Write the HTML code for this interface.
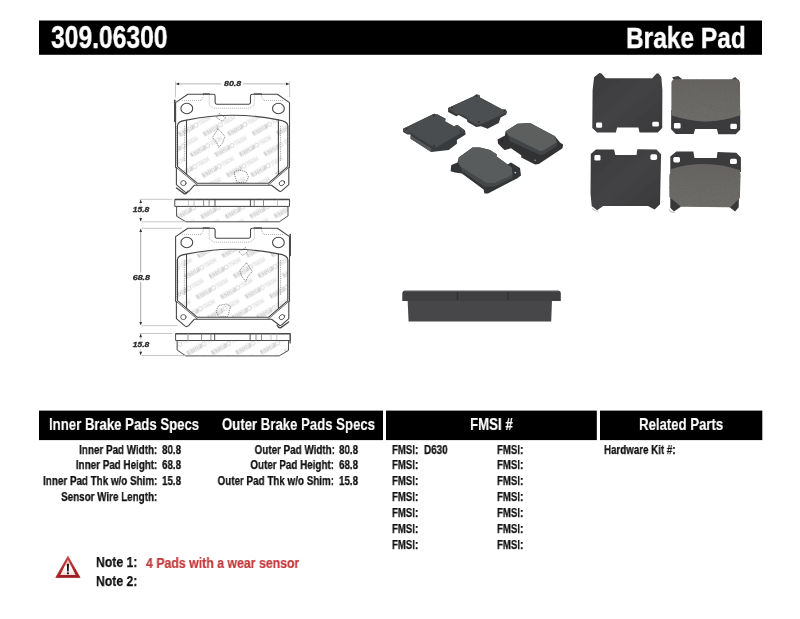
<!DOCTYPE html>
<html>
<head>
<meta charset="utf-8">
<title>309.06300 Brake Pad</title>
<style>
html,body{margin:0;padding:0;background:#fff;}
body{width:800px;height:619px;position:relative;overflow:hidden;font-family:"Liberation Sans",sans-serif;font-weight:bold;color:#111;}
.t{position:absolute;white-space:nowrap;line-height:1;will-change:transform;}
#art{position:absolute;left:0;top:0;will-change:transform;}
</style>
</head>
<body>
<svg id="art" width="800" height="619" viewBox="0 0 800 619">
<rect x="39" y="20.5" width="723" height="34.3" fill="#000"/>
<rect x="39" y="410.6" width="344" height="29.5" fill="#000"/>
<rect x="386" y="410.6" width="210.8" height="29.5" fill="#000"/>
<rect x="600" y="410.6" width="162.3" height="29.5" fill="#000"/>
<defs>
<pattern id="wm" width="42.9" height="23.6" patternUnits="userSpaceOnUse" patternTransform="translate(210.9,130.25) rotate(-29.5) translate(-10,-6)">
 <g id="lg">
  <rect x="1.8" y="3.6" width="16.4" height="4.8" rx="0.6" fill="#cecece"/>
  <text x="10" y="7.6" font-family="Liberation Sans, sans-serif" font-weight="bold" font-size="4.6" text-anchor="middle" fill="#fff" textLength="13.5" lengthAdjust="spacingAndGlyphs">STOP</text>
  <circle cx="21" cy="6" r="2.1" fill="none" stroke="#cfcfcf" stroke-width="0.9"/>
  <text x="24.2" y="7.7" font-family="Liberation Sans, sans-serif" font-weight="bold" font-size="4.8" fill="none" stroke="#e0e0e0" stroke-width="0.45" textLength="13" lengthAdjust="spacingAndGlyphs">TECH</text>
 </g>
 <use href="#lg" x="21.45" y="11.8"/>
 <use href="#lg" x="-21.45" y="11.8"/>
</pattern>
<pattern id="wm2" href="#wm" patternTransform="translate(252.8,158.8) rotate(-29.5) translate(-10,-6)"/>
<pattern id="wm3" href="#wm" patternTransform="translate(243.5,214.6) rotate(-29.5) translate(-10,-6)"/>
</defs>
<filter id="b3" x="-5%" y="-5%" width="110%" height="110%"><feGaussianBlur stdDeviation="0.32"/></filter>
<g filter="url(#b3)">
<g transform="translate(0,0)" fill="none" stroke="#464646" stroke-width="1.1" stroke-linejoin="round" stroke-linecap="round">
<path d="M177.5,125.6 Q177.6,121.2 186.5,120.1 A225,225 0 0 1 278.4,119.9 Q287.6,121.2 287.8,125.6 L287.8,166.6 L268.3,183.3 L197.4,183.3 L177.5,166.6 Z" fill="url(#wm)" stroke="none"/>
<path d="M175.6,102.6 L187.8,94.3 L213.3,94.3 Q215.1,94.3 215.1,96 L215.1,102.6 Q215.1,104.2 216.7,104.2 L248.9,104.2 Q250.5,104.2 250.5,102.6 L250.5,96 Q250.5,94.3 252.2,94.3 L277.4,94.3 L289.5,102.6 L289.5,167.2 L288.8,168 L288.8,184.6 L281.6,190.9 Q280,192.2 278.7,190.7 L271.6,185.3 L194.2,185.3 L188.6,191.6 Q186.6,193.4 184.8,191.9 L176.4,184.6 L176.4,168 L175.6,167.2 Z"/>
<path d="M177.5,125.6 Q177.6,121.2 186.5,120.1 A225,225 0 0 1 278.4,119.9 Q287.6,121.2 287.8,125.6 L287.8,166.6 L268.3,183.3 L197.4,183.3 L177.5,166.6 Z"/>
<path d="M175.8,167 L197.2,184.9 M289.3,167 L268.5,184.9" stroke-width="0.8"/>
<path d="M186.5,120.1 L186.5,174.1 M278.4,119.9 L278.4,174.5"/>
<path d="M184.4,126 L184.4,161 M280.5,126 L280.5,161 M176.6,126 L176.6,165 M288.7,126 L288.7,165" stroke="#6a6a6a" stroke-width="0.6" stroke-dasharray="0.9 0.9" stroke-linecap="butt"/>
<ellipse cx="186.8" cy="108.5" rx="5.9" ry="5.2"/><ellipse cx="278.4" cy="108.5" rx="5.9" ry="5.2"/>
<ellipse cx="183.4" cy="183.1" rx="2.7" ry="2.5" stroke-width="0.85"/><ellipse cx="281.9" cy="183.1" rx="2.9" ry="2.3" transform="rotate(-35 281.9 183.1)" stroke-width="0.85"/>
<path d="M209.2,94.6 L209.2,105 L214,108.2 L250,108.2 L254.3,105 L254.3,94.6 M182,100.5 L201.5,100.5 L203.3,96.5 L203.3,94.6 M283,100.5 L263.5,100.5 L261.6,96.5 L261.6,94.6" stroke="#808080" stroke-width="0.55" stroke-dasharray="1.1 0.9" stroke-linecap="butt"/>
<path d="M203.4,94 L209.2,94 M254.4,94 L261.5,94" stroke-width="1.3" stroke="#555"/>
<path d="M174.8,100.2 L174.8,121.4" stroke-width="1.5" stroke="#444"/>
<path d="M176.5,188 L184.2,193.6 Q186.4,194.4 187.9,191.2" stroke-width="1.4" stroke="#4a4a4a"/>
<path d="M218.1,128.8 L224.9,136.4 L222.6,143 L218.8,147.4 L217,143 L212.4,137.4 Z M219,113.6 L225.8,117.6 L222,121.4 L216.5,117.4 Z M234,172.5 L238,170 L246,171.5 L248.5,177 L246,182.3 L237,182.6 Z" stroke="#5a5a5a" stroke-width="0.7" stroke-dasharray="1.3 0.9" stroke-linecap="butt"/>
</g>
<g transform="translate(0,0)" fill="none" stroke="#464646" stroke-width="0.95" stroke-linejoin="round">
<path d="M176.6,206.4 L176.6,216.3 L186,221.8 L279.3,221.8 L288,215.9 L288,206.4 Z" fill="url(#wm)" stroke="none"/>
<path d="M176.6,206.4 L176.6,216.3 L186,221.8 L279.3,221.8 L288,215.9 L288,206.4 Z"/>
<rect x="174.8" y="199.4" width="114.7" height="7" fill="#fff"/>
<path d="M174.8,199.6 h114.7" stroke-width="1.5"/>
<path d="M215,199.6 V206.4 M250.4,199.6 V206.4" stroke-width="0.95"/>
<path d="M203.6,199.6 V206.4 M209.1,199.6 V206.4 M254.2,199.6 V206.4 M263.5,199.6 V206.4" stroke="#7d7d7d" stroke-width="0.9"/>
<path d="M188.3,199.6 V206.4 M194.1,199.6 V206.4 M277.5,199.6 V206.4" stroke="#ababab" stroke-width="0.7"/>
</g>
<g transform="translate(0,134)" fill="none" stroke="#464646" stroke-width="1.1" stroke-linejoin="round" stroke-linecap="round">
<path d="M177.5,125.6 Q177.6,121.2 186.5,120.1 A225,225 0 0 1 278.4,119.9 Q287.6,121.2 287.8,125.6 L287.8,166.6 L268.3,183.3 L197.4,183.3 L177.5,166.6 Z" fill="url(#wm2)" stroke="none"/>
<path d="M175.6,102.6 L187.8,94.3 L213.3,94.3 Q215.1,94.3 215.1,96 L215.1,102.6 Q215.1,104.2 216.7,104.2 L248.9,104.2 Q250.5,104.2 250.5,102.6 L250.5,96 Q250.5,94.3 252.2,94.3 L277.4,94.3 L289.5,102.6 L289.5,167.2 L288.8,168 L288.8,184.6 L281.6,190.9 Q280,192.2 278.7,190.7 L271.6,185.3 L194.2,185.3 L188.6,191.6 Q186.6,193.4 184.8,191.9 L176.4,184.6 L176.4,168 L175.6,167.2 Z"/>
<path d="M177.5,125.6 Q177.6,121.2 186.5,120.1 A225,225 0 0 1 278.4,119.9 Q287.6,121.2 287.8,125.6 L287.8,166.6 L268.3,183.3 L197.4,183.3 L177.5,166.6 Z"/>
<path d="M175.8,167 L197.2,184.9 M289.3,167 L268.5,184.9" stroke-width="0.8"/>
<path d="M186.5,120.1 L186.5,174.1 M278.4,119.9 L278.4,174.5"/>
<path d="M184.4,126 L184.4,161 M280.5,126 L280.5,161 M176.6,126 L176.6,165 M288.7,126 L288.7,165" stroke="#6a6a6a" stroke-width="0.6" stroke-dasharray="0.9 0.9" stroke-linecap="butt"/>
<ellipse cx="186.8" cy="108.5" rx="5.9" ry="5.2"/><ellipse cx="278.4" cy="108.5" rx="5.9" ry="5.2"/>
<ellipse cx="183.4" cy="183.1" rx="2.7" ry="2.5" stroke-width="0.85"/><ellipse cx="281.9" cy="183.1" rx="2.9" ry="2.3" transform="rotate(-35 281.9 183.1)" stroke-width="0.85"/>
<path d="M209.2,94.6 L209.2,105 L214,108.2 L250,108.2 L254.3,105 L254.3,94.6 M182,100.5 L201.5,100.5 L203.3,96.5 L203.3,94.6 M283,100.5 L263.5,100.5 L261.6,96.5 L261.6,94.6" stroke="#808080" stroke-width="0.55" stroke-dasharray="1.1 0.9" stroke-linecap="butt"/>
<path d="M203.4,94 L209.2,94 M254.4,94 L261.5,94" stroke-width="1.3" stroke="#555"/>
<path d="M290.2,100.4 L290.2,121.4" stroke-width="1.5" stroke="#444"/>
<path d="M288.6,188 L280.9,193.6 Q278.7,194.4 277.2,191.2" stroke-width="1.4" stroke="#4a4a4a"/>
<path d="M246.5,128.8 L239.7,136.4 L242,143 L245.8,147.4 L247.6,143 L252.2,137.4 Z M245.6,113.6 L238.8,117.6 L242.6,121.4 L248.1,117.4 Z M230.6,172.5 L226.6,170 L218.6,171.5 L216.1,177 L218.6,182.3 L227.6,182.6 Z" stroke="#5a5a5a" stroke-width="0.7" stroke-dasharray="1.3 0.9" stroke-linecap="butt"/>
</g>
<g transform="translate(0,134.1)" fill="none" stroke="#464646" stroke-width="0.95" stroke-linejoin="round">
<path d="M288.5,206.4 L288.5,216.3 L279.1,221.8 L185.8,221.8 L177.1,215.9 L177.1,206.4 Z" fill="url(#wm3)" stroke="none"/>
<path d="M288.5,206.4 L288.5,216.3 L279.1,221.8 L185.8,221.8 L177.1,215.9 L177.1,206.4 Z"/>
<rect x="175.6" y="199.4" width="114.7" height="7" fill="#fff"/>
<path d="M175.6,199.6 h114.7" stroke-width="1.5"/>
<path d="M250.1,199.6 V206.4 M214.7,199.6 V206.4" stroke-width="0.95"/>
<path d="M261.5,199.6 V206.4 M256.0,199.6 V206.4 M210.9,199.6 V206.4 M201.6,199.6 V206.4" stroke="#7d7d7d" stroke-width="0.9"/>
<path d="M276.8,199.6 V206.4 M271.0,199.6 V206.4 M187.6,199.6 V206.4" stroke="#ababab" stroke-width="0.7"/>
<path d="M188.3,199.6 V206.4" stroke="#ababab" stroke-width="0.7"/>
<path d="M290.2,200 V209.5" stroke="#555" stroke-width="1.3"/>
</g>
</g>
<g stroke="#b9b9b9" stroke-width="1" fill="none">
<path d="M177,83.9 H221.4 M242.9,83.9 H288.2"/>
<path d="M175.5,81.5 V97.5 M289.65,81.5 V97.5" stroke-width="0.8"/>
<path d="M140.7,201 V206 M140.7,215 V220.2 M140.7,335 V340 M140.7,349 V353.8" stroke-width="0.7" stroke="#c8c8c8"/>
<path d="M140.7,230 V272.5 M140.7,282 V324" stroke="#a8a8a8"/>
<path d="M139.6,199.3 H172.5 M141.6,221.8 H186 M141.6,228.3 H182 M141.6,325.7 H177.5 M139.6,333.5 H172.5 M141.6,355.5 H186" stroke-width="0.8"/>
</g>
<path d="M175.6,83.9 l3.6,-1.35 l0,2.7 Z M289.6,83.9 l-3.6,-1.35 l0,2.7 Z M140.7,199.5 l-1.35,3.6 l2.7,0 Z M140.7,221.7 l-1.35,-3.6 l2.7,0 Z M140.7,228.4 l-1.35,3.6 l2.7,0 Z M140.7,325.6 l-1.35,-3.6 l2.7,0 Z M140.7,333.6 l-1.35,3.6 l2.7,0 Z M140.7,355.4 l-1.35,-3.6 l2.7,0 Z" fill="#333"/>
<text x="224" y="86.3" font-family="Liberation Sans, sans-serif" font-weight="bold" font-style="italic" font-size="7.4" fill="#2a2a2a" stroke="#2a2a2a" stroke-width="0.3" textLength="17.2" lengthAdjust="spacingAndGlyphs">80.8</text>
<text x="132.7" y="212.3" font-family="Liberation Sans, sans-serif" font-weight="bold" font-style="italic" font-size="7.4" fill="#2a2a2a" stroke="#2a2a2a" stroke-width="0.3" textLength="16.6" lengthAdjust="spacingAndGlyphs">15.8</text>
<text x="132.7" y="279.6" font-family="Liberation Sans, sans-serif" font-weight="bold" font-style="italic" font-size="7.4" fill="#2a2a2a" stroke="#2a2a2a" stroke-width="0.3" textLength="17.3" lengthAdjust="spacingAndGlyphs">68.8</text>
<text x="132.7" y="346.8" font-family="Liberation Sans, sans-serif" font-weight="bold" font-style="italic" font-size="7.4" fill="#2a2a2a" stroke="#2a2a2a" stroke-width="0.3" textLength="16.6" lengthAdjust="spacingAndGlyphs">15.8</text>
<g>
<linearGradient id="wg" x1="0" y1="0" x2="0" y2="1"><stop offset="0" stop-color="#f3aaa7"/><stop offset="0.5" stop-color="#ffffff"/><stop offset="1" stop-color="#f6dedc"/></linearGradient>
<linearGradient id="wr" x1="0" y1="0" x2="0.3" y2="1"><stop offset="0" stop-color="#c9494a"/><stop offset="0.6" stop-color="#b4292c"/><stop offset="1" stop-color="#9f1f22"/></linearGradient>
<path d="M67.9,556.2 L80.1,577.5 L55.8,577.5 Z" fill="url(#wr)" stroke="url(#wr)" stroke-width="0.7" stroke-linejoin="round"/>
<path d="M67.9,559.6 L75.6,574.9 L60.3,574.9 Z" fill="url(#wg)"/>
<path d="M66.85,563.8 h2.15 l-0.3,7.6 h-1.55 Z" fill="#151515"/>
<circle cx="67.93" cy="573.35" r="1.1" fill="#151515"/>
</g>
<defs><filter id="b5" x="-5%" y="-5%" width="110%" height="110%"><feGaussianBlur stdDeviation="0.55"/></filter><filter id="b8" x="-5%" y="-5%" width="110%" height="110%"><feGaussianBlur stdDeviation="0.6"/></filter><linearGradient id="pl" x1="0" y1="0" x2="1" y2="1"><stop offset="0" stop-color="#3a3a3c"/><stop offset="0.5" stop-color="#434345"/><stop offset="1" stop-color="#38383a"/></linearGradient><linearGradient id="frg" x1="0" y1="0" x2="0" y2="1"><stop offset="0" stop-color="#666461"/><stop offset="1" stop-color="#706e6a"/></linearGradient><filter id="nz" x="0" y="0" width="100%" height="100%"><feTurbulence type="fractalNoise" baseFrequency="0.75" numOctaves="2" seed="4"/><feColorMatrix type="matrix" values="0 0 0 0 0.12  0 0 0 0 0.12  0 0 0 0 0.12  0 0 0 1.8 -0.68"/><feComposite operator="in" in2="SourceAlpha"/></filter></defs>
<g filter="url(#b5)">
<path d="M594.1,77.3 L599.3,72.9 L601.5,73.4 L605.6,78.3 L652.2,78.3 L656.5,73.5 L658.5,73.4 L661.3,77.1 L662.4,90 L662.2,128 L657.7,132.6 L639.6,132.6 L638.4,127.5 L617.1,127.5 L615.9,132.6 L597.1,132.6 L592.3,128 L592.6,90 Z" fill="url(#pl)"/>
<rect x="596.1" y="122.5" width="6" height="5.2" rx="1.3" fill="#fdfdfd"/><rect x="652.3" y="121.7" width="6.6" height="4.8" rx="1.3" fill="#fdfdfd"/>
<path d="M671.2,110 L671.1,129.2 L675.7,133.9 L693.7,133.9 L695.1,129 L716.9,129 L718.2,134.2 L735.7,134.2 L740.2,129.8 L740.2,110 Z" fill="#3a3a3c"/>
<path d="M672.1,77.3 L678.2,75.9 L682.4,79.3 L675,82 Z M731.5,79.3 L735.1,77 L739.3,80.7 L739.6,90 L735,84 Z" fill="#3f3f41"/>
<path d="M671.5,83 Q671.5,79.4 676,79.3 L735.5,79.3 Q740,79.4 740,84 L740.1,115.3 Q706,127.5 671.4,115.3 Z" fill="url(#frg)"/>
<path d="M671.5,83 Q671.5,79.4 676,79.3 L735.5,79.3 Q740,79.4 740,84 L740.1,115.3 Q706,127.5 671.4,115.3 Z" fill="#000" filter="url(#nz)"/>
<rect x="673.9" y="123.1" width="6.7" height="5.4" rx="1.3" fill="#fdfdfd"/><rect x="730.3" y="123.7" width="6.6" height="5.3" rx="1.3" fill="#fdfdfd"/>
<path d="M590.8,154 L595.9,149.4 L614.1,149.4 L615.3,155.1 L636.5,155.1 L637.3,149.2 L656.5,149.4 L661.1,154.3 L660.1,200.6 L660.1,204.2 L654.6,209.6 L648,206 L603.2,206 L597.1,210.3 L591.7,206 L590.5,193.3 Z" fill="url(#pl)"/>
<rect x="594.4" y="155.1" width="6.1" height="5.5" rx="1.4" fill="#fdfdfd"/><rect x="650.4" y="154.3" width="6.7" height="5.7" rx="1.8" fill="#fdfdfd"/>
<path d="M592.3,208.6 Q594.5,211.6 598.4,211.2" stroke="#c9c9c9" stroke-width="1.1" fill="none"/>
<path d="M670.3,156.4 L676.4,151.5 L693.3,151.5 L694.5,157.9 L716.7,157.9 L717.5,152.1 L736.3,152.7 L740.9,157.6 L740.9,172 L670.3,172 Z" fill="#3a3a3c"/>
<path d="M670.3,196 L670.3,207.8 L673.9,211.5 L679.4,207.8 L684,204 Z M738.9,197 L738.7,207.2 L735.1,211.5 L729.6,207.2 L728,203 Z" fill="#38383a"/>
<path d="M671.5,169 Q705,158.6 739.9,170.3 L740.5,175 L739.9,198.1 L730.3,207.2 L681.2,206.8 L669.4,196.9 L669.4,175 Z" fill="url(#frg)"/>
<path d="M671.5,169 Q705,158.6 739.9,170.3 L740.5,175 L739.9,198.1 L730.3,207.2 L681.2,206.8 L669.4,196.9 L669.4,175 Z" fill="#000" filter="url(#nz)"/>
<rect x="673.3" y="157" width="6.7" height="5.4" rx="1.6" fill="#fdfdfd"/><rect x="730" y="158.8" width="6.9" height="5.2" rx="1.6" fill="#fdfdfd"/>
<path d="M669.2,209.2 Q671,212.8 674.6,212.4" stroke="#c9c9c9" stroke-width="1.1" fill="none"/>
</g>
<g filter="url(#b5)">
<path d="M407.6,300 L552,300 L551.2,321.6 L408.6,321.6 Z" fill="#47474a"/>
<path d="M402.3,293 Q402.4,290.8 405,290.7 L558.5,290.7 Q560.8,290.8 560.8,293 L560.8,300.9 L402.3,300.9 Z" fill="#404043"/>
<path d="M404,291.2 L559,291.2" stroke="#5c5c5e" stroke-width="1"/>
<path d="M457.5,292 V300 M507.8,292 V300" stroke="#2f2f31" stroke-width="1.2"/>
</g>
<g filter="url(#b8)">
<path d="M448.1,108.1 L473.75,96.25 L476.25,94.4 L479.4,95 L480,97.5 L502.5,109.4 L505.6,109.4 L506.9,111.9 L506.25,114.4 L500.6,117.5 L498.75,123.1 L487.5,128.75 L481.25,126.25 L476.25,126.9 L467.5,121.9 L466.9,119.4 L458.75,115 L456.25,116.25 L448.1,111.9 Z" fill="#38393b"/>
<path d="M448.1,108.1 L473.75,96.25 L476.25,94.4 L479.4,95 L480,97.5 L502.5,109.4 L505.6,109.4 L506.9,111.9 L500,115.5 L481.25,124.2 L476.25,124.8 L468.75,120.4 L466.9,117.6 L458.75,113.4 L456.25,114.6 Z" fill="#4c4f51"/>
<path d="M403.1,128.75 L432.5,114.4 L434.4,113.75 L437.5,114.4 L445.6,118.75 L445,121.25 L453.75,126.25 L457.5,125 L465,130.6 L465.6,134.4 L456.9,140 L456.9,143.75 L448.75,150 L431.25,151.9 L410.6,138.75 L410.6,134.4 L407.5,134.4 L403.1,131.9 Z" fill="#393b3d"/>
<path d="M410.6,135.4 L431.4,148.6 L431.25,151.9 L410.6,138.75 Z" fill="#57595b"/>
<path d="M403.1,128.75 L432.5,114.4 L434.4,113.75 L437.5,114.4 L445.6,118.75 L445,121.25 L453.75,126.25 L457.5,125 L465,130.6 L436.6,147.2 L431.9,146.25 L410,132.5 L407.5,133.4 L403.4,130.6 Z" fill="#4a4d4f"/>
<g fill="#2c2e30"><circle cx="433.75" cy="115.6" r="0.9"/><circle cx="406.4" cy="129" r="0.9"/><circle cx="460.6" cy="131.2" r="0.9"/><circle cx="433.9" cy="145.6" r="0.9"/><circle cx="451.9" cy="107.7" r="0.9"/><circle cx="476.3" cy="95.9" r="0.9"/><circle cx="504.2" cy="110.8" r="0.9"/><circle cx="478.8" cy="122" r="0.9"/></g>
<path d="M497.5,139.4 L505,135.6 L505.6,131.3 L517.5,123.8 L530,123.1 L555,136.3 L560,142.5 L563.1,144.4 L562.5,148.3 L538.8,163.9 L535,164.4 L521.3,157.6 L521.2,155.2 L511,148.2 L506.9,149.6 L504.4,150 L498.1,143.8 Z" fill="#303234"/>
<path d="M508.1,135.6 L510,141.3 L540,155 L543.8,154.4 L556.9,146.3 L556.9,142.5 L543.8,150.6 L540,151.3 Z" fill="#434547"/>
<path d="M505.6,131.3 L517.5,123.8 L530,123.1 L555,136.3 L556.9,142.5 L543.8,150.6 L540,151.3 L508.1,135.6 Z" fill="#5c5e5d"/>
<path d="M450.6,171.3 L451.3,165 L457.5,162.5 L458.8,157.5 L472.5,147.6 L480,147.5 L490,150 L496.9,154.4 L496.3,156.3 L507.5,164.6 L511,162.5 L520,168 L521,175.5 L517,178.4 L488,193.4 L484.4,193.6 L483.6,189.4 L461.9,173.4 L455,172.5 Z" fill="#333537"/>
<path d="M461.3,167.5 L461.9,171.3 L485,186.9 L495,186.3 L512.5,178.1 L512.5,175 L495,183.1 L486.3,183.1 Z" fill="#454749"/>
<path d="M458.8,157.5 L472.5,147.6 L480,147.5 L490,150 L496.9,154.4 L496.3,156.3 L511.9,167.5 L512.5,175 L495,183.1 L486.3,183.1 L461.3,167.5 L458.1,163.1 Z" fill="#595b5b"/>
<circle cx="515.3" cy="172.6" r="0.9" fill="#bbb"/><circle cx="535.2" cy="160.2" r="0.8" fill="#999"/><circle cx="501.9" cy="141.4" r="0.9" fill="#1f2022"/>
</g>
</svg>
<div class="t" style="top:21.56px;font-size:31px;color:#fff;left:50.60px;transform-origin:0 0;transform:scaleX(0.7956);-webkit-text-stroke:0.4px #fff;">309.06300</div>
<div class="t" style="top:23.44px;font-size:29.6px;color:#fff;left:626.00px;transform-origin:0 0;transform:scaleX(0.8275);-webkit-text-stroke:0.4px #fff;">Brake Pad</div>
<div class="t" style="top:416.03px;font-size:16.5px;color:#fff;left:48.80px;transform-origin:0 0;transform:scaleX(0.7983);-webkit-text-stroke:0.2px #fff;">Inner Brake Pads Specs</div>
<div class="t" style="top:416.03px;font-size:16.5px;color:#fff;left:221.50px;transform-origin:0 0;transform:scaleX(0.7982);-webkit-text-stroke:0.2px #fff;">Outer Brake Pads Specs</div>
<div class="t" style="top:416.03px;font-size:16.5px;color:#fff;left:470.40px;transform-origin:0 0;transform:scaleX(0.8047);-webkit-text-stroke:0.2px #fff;">FMSI #</div>
<div class="t" style="top:416.03px;font-size:16.5px;color:#fff;left:638.60px;transform-origin:0 0;transform:scaleX(0.7983);-webkit-text-stroke:0.2px #fff;">Related Parts</div>
<div class="t" style="top:443.64px;font-size:12px;color:#111;right:642.40px;transform-origin:100% 0;transform:scaleX(0.8200);-webkit-text-stroke:0.25px #111;">Inner Pad Width:</div>
<div class="t" style="top:459.49px;font-size:12px;color:#111;right:642.40px;transform-origin:100% 0;transform:scaleX(0.8200);-webkit-text-stroke:0.25px #111;">Inner Pad Height:</div>
<div class="t" style="top:475.34px;font-size:12px;color:#111;right:642.40px;transform-origin:100% 0;transform:scaleX(0.8200);-webkit-text-stroke:0.25px #111;">Inner Pad Thk w/o Shim:</div>
<div class="t" style="top:491.19px;font-size:12px;color:#111;right:642.40px;transform-origin:100% 0;transform:scaleX(0.8200);-webkit-text-stroke:0.25px #111;">Sensor Wire Length:</div>
<div class="t" style="top:443.64px;font-size:12px;color:#111;left:161.80px;transform-origin:0 0;transform:scaleX(0.8134);-webkit-text-stroke:0.25px #111;">80.8</div>
<div class="t" style="top:459.49px;font-size:12px;color:#111;left:161.80px;transform-origin:0 0;transform:scaleX(0.8134);-webkit-text-stroke:0.25px #111;">68.8</div>
<div class="t" style="top:475.34px;font-size:12px;color:#111;left:161.80px;transform-origin:0 0;transform:scaleX(0.8134);-webkit-text-stroke:0.25px #111;">15.8</div>
<div class="t" style="top:443.64px;font-size:12px;color:#111;right:465.60px;transform-origin:100% 0;transform:scaleX(0.8200);-webkit-text-stroke:0.25px #111;">Outer Pad Width:</div>
<div class="t" style="top:459.49px;font-size:12px;color:#111;right:465.60px;transform-origin:100% 0;transform:scaleX(0.8200);-webkit-text-stroke:0.25px #111;">Outer Pad Height:</div>
<div class="t" style="top:475.34px;font-size:12px;color:#111;right:465.60px;transform-origin:100% 0;transform:scaleX(0.8200);-webkit-text-stroke:0.25px #111;">Outer Pad Thk w/o Shim:</div>
<div class="t" style="top:443.64px;font-size:12px;color:#111;left:338.50px;transform-origin:0 0;transform:scaleX(0.8134);-webkit-text-stroke:0.25px #111;">80.8</div>
<div class="t" style="top:459.49px;font-size:12px;color:#111;left:338.50px;transform-origin:0 0;transform:scaleX(0.8134);-webkit-text-stroke:0.25px #111;">68.8</div>
<div class="t" style="top:475.34px;font-size:12px;color:#111;left:338.50px;transform-origin:0 0;transform:scaleX(0.8134);-webkit-text-stroke:0.25px #111;">15.8</div>
<div class="t" style="top:443.64px;font-size:12px;color:#111;left:392.30px;transform-origin:0 0;transform:scaleX(0.8019);-webkit-text-stroke:0.25px #111;">FMSI:</div>
<div class="t" style="top:443.64px;font-size:12px;color:#111;left:496.50px;transform-origin:0 0;transform:scaleX(0.8050);-webkit-text-stroke:0.25px #111;">FMSI:</div>
<div class="t" style="top:459.49px;font-size:12px;color:#111;left:392.30px;transform-origin:0 0;transform:scaleX(0.8019);-webkit-text-stroke:0.25px #111;">FMSI:</div>
<div class="t" style="top:459.49px;font-size:12px;color:#111;left:496.50px;transform-origin:0 0;transform:scaleX(0.8050);-webkit-text-stroke:0.25px #111;">FMSI:</div>
<div class="t" style="top:475.34px;font-size:12px;color:#111;left:392.30px;transform-origin:0 0;transform:scaleX(0.8019);-webkit-text-stroke:0.25px #111;">FMSI:</div>
<div class="t" style="top:475.34px;font-size:12px;color:#111;left:496.50px;transform-origin:0 0;transform:scaleX(0.8050);-webkit-text-stroke:0.25px #111;">FMSI:</div>
<div class="t" style="top:491.19px;font-size:12px;color:#111;left:392.30px;transform-origin:0 0;transform:scaleX(0.8019);-webkit-text-stroke:0.25px #111;">FMSI:</div>
<div class="t" style="top:491.19px;font-size:12px;color:#111;left:496.50px;transform-origin:0 0;transform:scaleX(0.8050);-webkit-text-stroke:0.25px #111;">FMSI:</div>
<div class="t" style="top:507.04px;font-size:12px;color:#111;left:392.30px;transform-origin:0 0;transform:scaleX(0.8019);-webkit-text-stroke:0.25px #111;">FMSI:</div>
<div class="t" style="top:507.04px;font-size:12px;color:#111;left:496.50px;transform-origin:0 0;transform:scaleX(0.8050);-webkit-text-stroke:0.25px #111;">FMSI:</div>
<div class="t" style="top:522.89px;font-size:12px;color:#111;left:392.30px;transform-origin:0 0;transform:scaleX(0.8019);-webkit-text-stroke:0.25px #111;">FMSI:</div>
<div class="t" style="top:522.89px;font-size:12px;color:#111;left:496.50px;transform-origin:0 0;transform:scaleX(0.8050);-webkit-text-stroke:0.25px #111;">FMSI:</div>
<div class="t" style="top:538.74px;font-size:12px;color:#111;left:392.30px;transform-origin:0 0;transform:scaleX(0.8019);-webkit-text-stroke:0.25px #111;">FMSI:</div>
<div class="t" style="top:538.74px;font-size:12px;color:#111;left:496.50px;transform-origin:0 0;transform:scaleX(0.8050);-webkit-text-stroke:0.25px #111;">FMSI:</div>
<div class="t" style="top:443.64px;font-size:12px;color:#111;left:423.80px;transform-origin:0 0;transform:scaleX(0.8261);-webkit-text-stroke:0.25px #111;">D630</div>
<div class="t" style="top:443.64px;font-size:12px;color:#111;left:603.80px;transform-origin:0 0;transform:scaleX(0.8133);-webkit-text-stroke:0.25px #111;">Hardware Kit #:</div>
<div class="t" style="top:555.23px;font-size:14.5px;color:#111;left:96.00px;transform-origin:0 0;transform:scaleX(0.8422);-webkit-text-stroke:0.25px #111;">Note 1:</div>
<div class="t" style="top:573.53px;font-size:14.5px;color:#111;left:96.00px;transform-origin:0 0;transform:scaleX(0.8422);-webkit-text-stroke:0.25px #111;">Note 2:</div>
<div class="t" style="top:556.25px;font-size:14px;color:#c4373a;left:146.25px;transform-origin:0 0;transform:scaleX(0.8795);-webkit-text-stroke:0.2px #c4373a;">4 Pads with a wear sensor</div>
</body>
</html>
